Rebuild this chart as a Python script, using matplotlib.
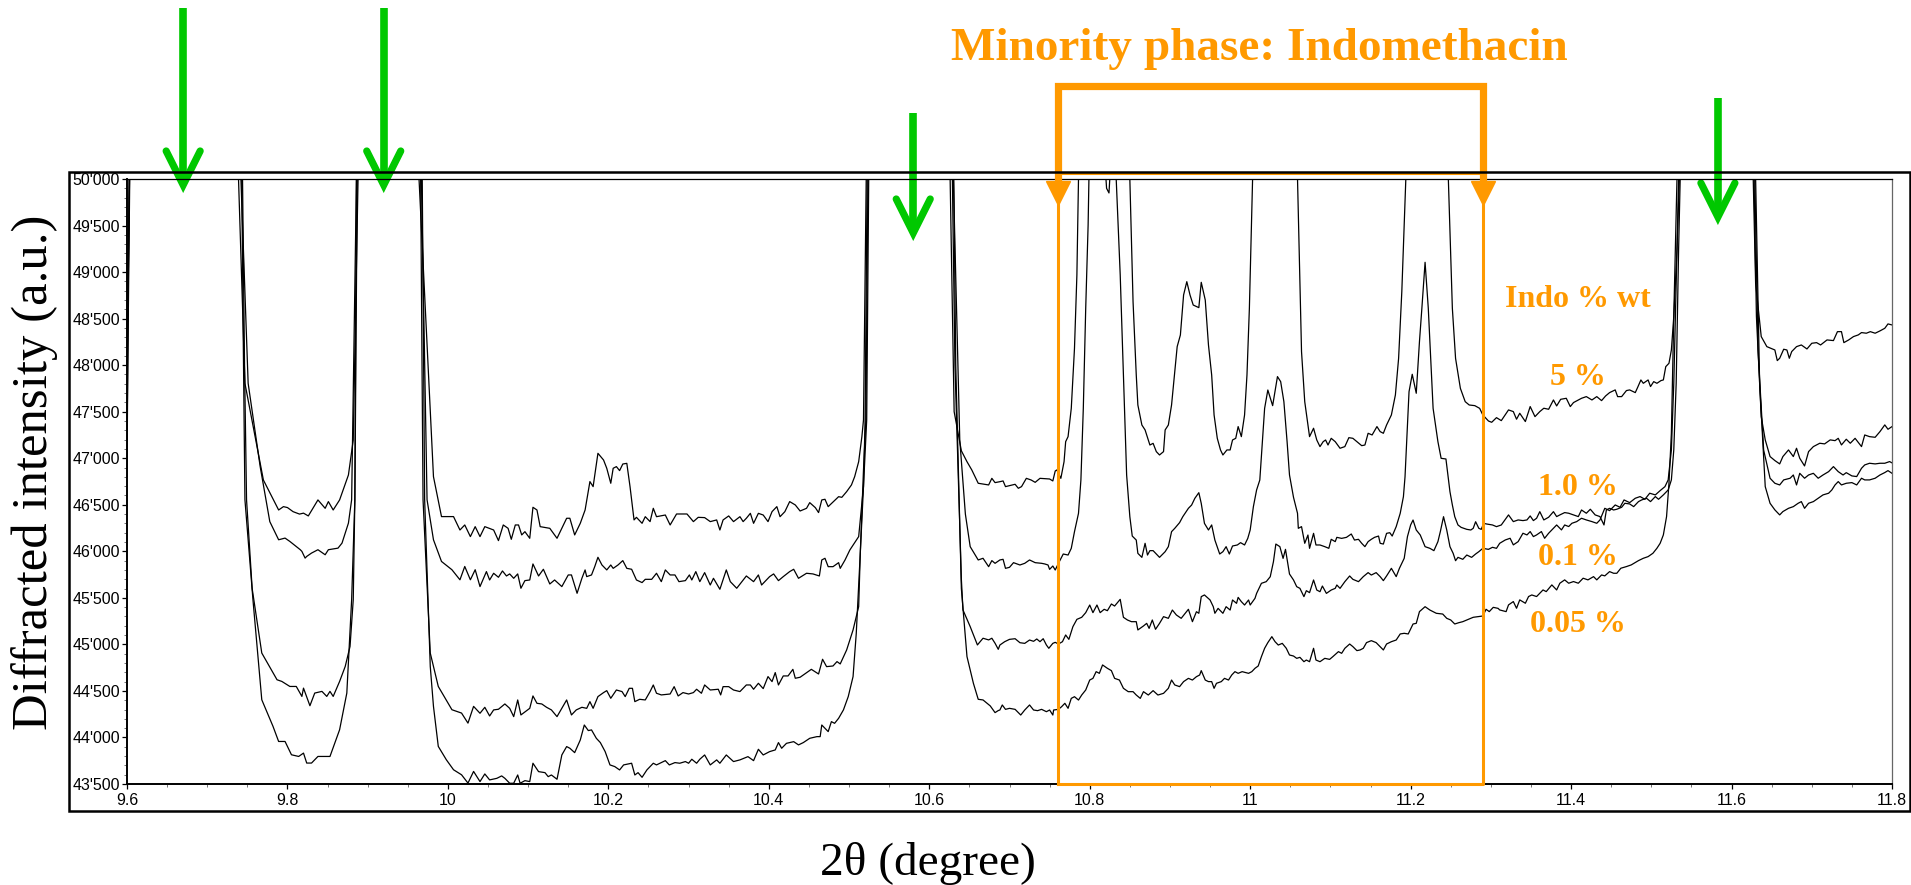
import numpy as np
import matplotlib
matplotlib.use("Agg")
import matplotlib.pyplot as plt
from matplotlib.patches import Rectangle
from matplotlib.ticker import MultipleLocator, FuncFormatter

# XRD patterns (2theta in degree, intensity a.u.)
# values above 50'000 only mark where a trace leaves the top of the frame
x_5 = [9.600, 9.603, 9.670, 9.739, 9.747, 9.770, 9.789, 9.795, 9.800, 9.807,
       9.815, 9.820, 9.826, 9.838, 9.847, 9.851, 9.857, 9.865, 9.876, 9.882,
       9.888, 9.925, 9.964, 9.982, 9.992, 10.007, 10.015, 10.021, 10.028, 10.034,
       10.040, 10.046, 10.057, 10.063, 10.069, 10.075, 10.079, 10.084, 10.088, 10.092,
       10.096, 10.102, 10.106, 10.111, 10.115, 10.127, 10.136, 10.148, 10.152, 10.158,
       10.165, 10.171, 10.177, 10.181, 10.187, 10.194, 10.198, 10.203, 10.206, 10.210,
       10.214, 10.218, 10.223, 10.227, 10.232, 10.235, 10.242, 10.246, 10.252, 10.256,
       10.260, 10.271, 10.277, 10.285, 10.298, 10.306, 10.312, 10.320, 10.327, 10.335,
       10.339, 10.343, 10.350, 10.356, 10.364, 10.368, 10.372, 10.377, 10.381, 10.387,
       10.393, 10.399, 10.404, 10.410, 10.414, 10.420, 10.426, 10.433, 10.439, 10.447,
       10.451, 10.458, 10.462, 10.466, 10.470, 10.474, 10.487, 10.491, 10.497, 10.503,
       10.507, 10.512, 10.516, 10.518, 10.522, 10.575, 10.626, 10.631, 10.640, 10.647,
       10.653, 10.661, 10.674, 10.678, 10.682, 10.688, 10.692, 10.695, 10.707, 10.711,
       10.715, 10.721, 10.727, 10.732, 10.738, 10.750, 10.754, 10.757, 10.759, 10.764,
       10.768, 10.770, 10.773, 10.777, 10.781, 10.784, 10.786, 10.800, 10.818, 10.821,
       10.824, 10.827, 10.838, 10.850, 10.854, 10.858, 10.860, 10.865, 10.869, 10.875,
       10.879, 10.883, 10.887, 10.892, 10.894, 10.898, 10.902, 10.906, 10.909, 10.913,
       10.917, 10.921, 10.925, 10.929, 10.936, 10.939, 10.944, 10.948, 10.952, 10.955,
       10.959, 10.963, 10.966, 10.971, 10.975, 10.978, 10.982, 10.985, 10.989, 10.993,
       10.996, 10.999, 11.003, 11.030, 11.059, 11.064, 11.068, 11.074, 11.079, 11.083,
       11.087, 11.091, 11.094, 11.097, 11.101, 11.106, 11.112, 11.118, 11.123, 11.128,
       11.133, 11.139, 11.143, 11.147, 11.152, 11.158, 11.162, 11.166, 11.170, 11.176,
       11.181, 11.185, 11.189, 11.194, 11.220, 11.247, 11.252, 11.256, 11.262, 11.268,
       11.273, 11.280, 11.286, 11.290, 11.297, 11.301, 11.307, 11.313, 11.322, 11.328,
       11.332, 11.336, 11.343, 11.349, 11.355, 11.361, 11.366, 11.372, 11.378, 11.382,
       11.387, 11.394, 11.399, 11.403, 11.413, 11.419, 11.426, 11.432, 11.438, 11.443,
       11.448, 11.455, 11.458, 11.463, 11.469, 11.473, 11.480, 11.483, 11.487, 11.490,
       11.496, 11.499, 11.503, 11.507, 11.512, 11.515, 11.518, 11.522, 11.525, 11.528,
       11.532, 11.535, 11.580, 11.627, 11.630, 11.637, 11.644, 11.649, 11.654, 11.657,
       11.660, 11.665, 11.669, 11.672, 11.675, 11.681, 11.687, 11.694, 11.700, 11.706,
       11.711, 11.719, 11.727, 11.732, 11.737, 11.740, 11.746, 11.752, 11.758, 11.762,
       11.768, 11.773, 11.779, 11.785, 11.791, 11.795, 11.800]
y_5 = [46800, 50500, 90000, 50000, 47805, 46766, 46444, 46480, 46470, 46426,
       46400, 46410, 46380, 46552, 46462, 46534, 46444, 46552, 46820, 47196,
       50000, 90000, 50000, 46802, 46373, 46373, 46229, 46283, 46158, 46265,
       46158, 46265, 46229, 46115, 46283, 46247, 46129, 46283, 46283, 46176,
       46211, 46140, 46473, 46444, 46265, 46247, 46140, 46355, 46355, 46176,
       46301, 46444, 46749, 46695, 47053, 46981, 46892, 46731, 46892, 46910,
       46867, 46938, 46945, 46695, 46337, 46365, 46301, 46372, 46319, 46462,
       46372, 46390, 46283, 46401, 46401, 46319, 46365, 46362, 46319, 46337,
       46229, 46337, 46380, 46319, 46372, 46319, 46355, 46408, 46301, 46408,
       46390, 46319, 46426, 46480, 46372, 46426, 46534, 46498, 46433, 46462,
       46523, 46469, 46416, 46552, 46559, 46480, 46587, 46580, 46641, 46713,
       46802, 46963, 47232, 47411, 50500, 90000, 50000, 47500, 47080, 46963,
       46874, 46731, 46713, 46784, 46738, 46748, 46756, 46695, 46720, 46677,
       46695, 46784, 46766, 46741, 46784, 46777, 46756, 46863, 46874, 46784,
       46963, 47178, 47232, 47536, 48181, 48969, 50000, 56000, 50300, 49900,
       49850, 50300, 56000, 50000, 48682, 47894, 47572, 47357, 47304, 47142,
       47160, 47071, 47035, 47071, 47304, 47357, 47572, 47930, 48199, 48324,
       48754, 48897, 48754, 48646, 48618, 48890, 48700, 48217, 47894, 47465,
       47214, 47089, 47035, 47089, 47089, 47196, 47214, 47340, 47232, 47465,
       47894, 48611, 50000, 70000, 50000, 48145, 47608, 47232, 47322, 47196,
       47125, 47178, 47196, 47142, 47214, 47178, 47107, 47125, 47221, 47214,
       47178, 47135, 47142, 47268, 47250, 47340, 47286, 47268, 47357, 47465,
       47680, 48073, 48790, 50000, 70000, 50000, 48611, 48073, 47751, 47608,
       47572, 47565, 47536, 47465, 47400, 47386, 47436, 47404, 47519, 47501,
       47419, 47483, 47394, 47555, 47447, 47501, 47537, 47526, 47626, 47562,
       47633, 47644, 47555, 47598, 47644, 47662, 47626, 47662, 47619, 47669,
       47705, 47734, 47662, 47662, 47727, 47734, 47705, 47762, 47841, 47805,
       47841, 47770, 47823, 47805, 47834, 47841, 47984, 48020, 48163, 48522,
       49238, 50008, 90000, 50008, 48880, 48307, 48199, 48181, 48163, 48049,
       48074, 48171, 48163, 48074, 48146, 48199, 48217, 48174, 48235, 48242,
       48217, 48271, 48264, 48360, 48360, 48242, 48271, 48307, 48325, 48350,
       48343, 48360, 48343, 48368, 48396, 48443, 48432]

x_1 = [9.600, 9.604, 9.670, 9.742, 9.751, 9.766, 9.778, 9.789, 9.797, 9.803,
       9.816, 9.818, 9.822, 9.824, 9.830, 9.838, 9.847, 9.851, 9.863, 9.868,
       9.876, 9.880, 9.886, 9.925, 9.967, 9.974, 9.982, 9.992, 10.005, 10.015,
       10.021, 10.028, 10.034, 10.040, 10.048, 10.052, 10.057, 10.063, 10.068, 10.073,
       10.077, 10.082, 10.087, 10.091, 10.096, 10.102, 10.106, 10.113, 10.119, 10.127,
       10.133, 10.142, 10.150, 10.154, 10.161, 10.167, 10.171, 10.173, 10.179, 10.183,
       10.187, 10.192, 10.198, 10.203, 10.206, 10.212, 10.218, 10.223, 10.229, 10.235,
       10.242, 10.246, 10.254, 10.260, 10.266, 10.271, 10.277, 10.283, 10.288, 10.296,
       10.301, 10.304, 10.309, 10.314, 10.320, 10.327, 10.331, 10.339, 10.347, 10.352,
       10.360, 10.368, 10.372, 10.381, 10.387, 10.391, 10.397, 10.401, 10.406, 10.412,
       10.418, 10.426, 10.431, 10.437, 10.447, 10.455, 10.463, 10.466, 10.470, 10.474,
       10.480, 10.487, 10.489, 10.495, 10.501, 10.512, 10.518, 10.522, 10.525, 10.575,
       10.628, 10.630, 10.638, 10.645, 10.651, 10.661, 10.667, 10.674, 10.678, 10.682,
       10.688, 10.692, 10.695, 10.700, 10.705, 10.713, 10.719, 10.725, 10.732, 10.740,
       10.744, 10.748, 10.750, 10.754, 10.757, 10.761, 10.767, 10.773, 10.777, 10.781,
       10.786, 10.789, 10.792, 10.795, 10.798, 10.799, 10.815, 10.833, 10.838, 10.842,
       10.846, 10.850, 10.853, 10.858, 10.860, 10.865, 10.869, 10.872, 10.875, 10.879,
       10.883, 10.887, 10.894, 10.898, 10.902, 10.906, 10.912, 10.916, 10.923, 10.927,
       10.931, 10.936, 10.939, 10.943, 10.948, 10.952, 10.956, 10.962, 10.966, 10.970,
       10.974, 10.978, 10.984, 10.988, 10.993, 10.997, 11.000, 11.004, 11.008, 11.012,
       11.018, 11.022, 11.028, 11.034, 11.038, 11.042, 11.046, 11.049, 11.054, 11.059,
       11.060, 11.064, 11.068, 11.072, 11.074, 11.079, 11.082, 11.087, 11.093, 11.098,
       11.101, 11.106, 11.108, 11.114, 11.120, 11.126, 11.130, 11.135, 11.139, 11.143,
       11.147, 11.151, 11.155, 11.160, 11.162, 11.166, 11.170, 11.174, 11.177, 11.182,
       11.187, 11.191, 11.193, 11.198, 11.202, 11.207, 11.211, 11.214, 11.218, 11.222,
       11.228, 11.234, 11.238, 11.244, 11.249, 11.252, 11.255, 11.259, 11.263, 11.270,
       11.275, 11.278, 11.281, 11.285, 11.288, 11.291, 11.295, 11.302, 11.307, 11.313,
       11.322, 11.328, 11.334, 11.340, 11.345, 11.349, 11.353, 11.357, 11.361, 11.366,
       11.372, 11.378, 11.382, 11.386, 11.392, 11.397, 11.403, 11.409, 11.413, 11.419,
       11.424, 11.430, 11.436, 11.441, 11.444, 11.448, 11.453, 11.457, 11.463, 11.467,
       11.473, 11.478, 11.484, 11.488, 11.494, 11.499, 11.505, 11.509, 11.515, 11.521,
       11.525, 11.528, 11.531, 11.534, 11.536, 11.580, 11.628, 11.631, 11.637, 11.642,
       11.648, 11.654, 11.660, 11.664, 11.671, 11.677, 11.681, 11.685, 11.691, 11.696,
       11.702, 11.710, 11.716, 11.723, 11.729, 11.733, 11.737, 11.743, 11.748, 11.754,
       11.762, 11.766, 11.772, 11.779, 11.785, 11.791, 11.795, 11.800]
y_1 = [47200, 50500, 90000, 50000, 47805, 46910, 46319, 46124, 46142, 46106,
       46017, 45999, 45927, 45945, 45981, 46017, 45963, 46017, 46034, 46088,
       46303, 46554, 50000, 90000, 50000, 46554, 46124, 45891, 45802, 45694,
       45837, 45694, 45802, 45621, 45782, 45692, 45764, 45721, 45789, 45735,
       45757, 45710, 45757, 45603, 45685, 45692, 45864, 45735, 45807, 45649,
       45692, 45621, 45746, 45746, 45549, 45710, 45800, 45728, 45746, 45835,
       45936, 45853, 45800, 45853, 45817, 45853, 45900, 45817, 45807, 45692,
       45664, 45699, 45699, 45764, 45674, 45800, 45746, 45746, 45674, 45685,
       45746, 45692, 45782, 45674, 45771, 45638, 45710, 45592, 45800, 45674,
       45603, 45692, 45735, 45674, 45746, 45638, 45692, 45728, 45757, 45685,
       45728, 45782, 45807, 45710, 45764, 45757, 45735, 45907, 45925, 45835,
       45835, 45878, 45817, 45907, 46014, 46158, 46695, 47411, 50500, 90000,
       50500, 50000, 47200, 46400, 46050, 45907, 45925, 45835, 45900, 45871,
       45907, 45914, 45817, 45828, 45878, 45853, 45871, 45907, 45878, 45871,
       45864, 45853, 45806, 45842, 45799, 45871, 45971, 45960, 46032, 46211,
       46408, 46766, 47536, 48611, 49506, 50000, 60000, 50000, 48969, 47894,
       46820, 46372, 46164, 46121, 45978, 45935, 46086, 45960, 46007, 46007,
       45971, 45935, 45996, 46050, 46211, 46247, 46308, 46372, 46462, 46497,
       46569, 46630, 46515, 46300, 46229, 46283, 46121, 45971, 45996, 46050,
       45971, 46057, 46068, 46093, 46068, 46139, 46229, 46480, 46659, 46766,
       47536, 47733, 47565, 47877, 47823, 47608, 47178, 46820, 46580, 46408,
       46247, 46265, 46086, 46175, 46032, 46193, 46068, 46068, 46050, 46032,
       46129, 46104, 46150, 46139, 46150, 46186, 46121, 46129, 46086, 46050,
       46104, 46129, 46150, 46164, 46086, 46078, 46193, 46200, 46164, 46265,
       46408, 46587, 46800, 47715, 47902, 47698, 48253, 48611, 49105, 48611,
       47536, 47178, 46999, 46992, 46641, 46498, 46372, 46283, 46257, 46236,
       46229, 46247, 46318, 46247, 46236, 46300, 46293, 46283, 46265, 46283,
       46391, 46319, 46337, 46330, 46337, 46380, 46330, 46355, 46426, 46337,
       46366, 46426, 46373, 46391, 46416, 46409, 46391, 46373, 46444, 46409,
       46452, 46391, 46373, 46283, 46444, 46462, 46444, 46452, 46473, 46516,
       46509, 46480, 46534, 46552, 46570, 46534, 46588, 46559, 46606, 46659,
       46767, 47089, 47805, 49238, 50008, 90000, 50008, 48522, 47447, 47197,
       47018, 46975, 46939, 47018, 47089, 47018, 47107, 47000, 46917, 47071,
       47125, 47161, 47154, 47197, 47189, 47214, 47143, 47204, 47161, 47214,
       47125, 47250, 47232, 47225, 47286, 47358, 47311, 47340]

x_01 = [9.600, 9.604, 9.670, 9.744, 9.7465, 9.749, 9.756, 9.768, 9.787, 9.793, 9.803, 9.811,
        9.818, 9.820, 9.828, 9.834, 9.843, 9.849, 9.853, 9.857, 9.865, 9.872,
        9.878, 9.882, 9.884, 9.887, 9.925, 9.966, 9.969, 9.978, 9.988, 10.005,
        10.017, 10.025, 10.032, 10.040, 10.046, 10.052, 10.057, 10.063, 10.071, 10.077,
        10.082, 10.087, 10.091, 10.102, 10.106, 10.111, 10.117, 10.123, 10.129, 10.136,
        10.148, 10.154, 10.160, 10.167, 10.173, 10.177, 10.181, 10.187, 10.194, 10.198,
        10.203, 10.210, 10.217, 10.221, 10.226, 10.230, 10.233, 10.239, 10.246, 10.252,
        10.256, 10.260, 10.266, 10.277, 10.282, 10.287, 10.293, 10.300, 10.306, 10.310,
        10.316, 10.320, 10.327, 10.337, 10.340, 10.343, 10.350, 10.356, 10.364, 10.372,
        10.377, 10.381, 10.387, 10.393, 10.399, 10.404, 10.408, 10.412, 10.418, 10.424,
        10.430, 10.433, 10.439, 10.449, 10.453, 10.462, 10.467, 10.472, 10.480, 10.485,
        10.489, 10.497, 10.505, 10.512, 10.514, 10.518, 10.520, 10.523, 10.575, 10.628,
        10.632, 10.640, 10.642, 10.651, 10.660, 10.667, 10.674, 10.678, 10.682, 10.686,
        10.688, 10.694, 10.700, 10.707, 10.713, 10.719, 10.725, 10.730, 10.734, 10.738,
        10.742, 10.746, 10.749, 10.754, 10.757, 10.761, 10.766, 10.770, 10.774, 10.779,
        10.784, 10.790, 10.795, 10.800, 10.804, 10.809, 10.813, 10.818, 10.822, 10.827,
        10.831, 10.838, 10.842, 10.847, 10.852, 10.858, 10.860, 10.867, 10.871, 10.874,
        10.878, 10.882, 10.887, 10.892, 10.898, 10.903, 10.908, 10.914, 10.919, 10.923,
        10.928, 10.933, 10.936, 10.939, 10.943, 10.950, 10.954, 10.956, 10.960, 10.966,
        10.970, 10.975, 10.978, 10.983, 10.985, 10.989, 10.993, 10.998, 11.000, 11.006,
        11.008, 11.014, 11.020, 11.025, 11.029, 11.032, 11.037, 11.041, 11.044, 11.049,
        11.054, 11.058, 11.062, 11.067, 11.070, 11.074, 11.079, 11.083, 11.087, 11.090,
        11.095, 11.101, 11.106, 11.108, 11.112, 11.118, 11.124, 11.128, 11.135, 11.141,
        11.147, 11.151, 11.157, 11.162, 11.166, 11.170, 11.176, 11.182, 11.186, 11.192,
        11.196, 11.200, 11.203, 11.207, 11.212, 11.218, 11.224, 11.229, 11.234, 11.237,
        11.241, 11.245, 11.249, 11.253, 11.256, 11.259, 11.265, 11.270, 11.276, 11.281,
        11.285, 11.290, 11.297, 11.302, 11.307, 11.311, 11.318, 11.324, 11.328, 11.334,
        11.340, 11.345, 11.349, 11.353, 11.357, 11.363, 11.367, 11.372, 11.378, 11.382,
        11.388, 11.392, 11.397, 11.401, 11.407, 11.413, 11.419, 11.426, 11.432, 11.436,
        11.442, 11.448, 11.455, 11.461, 11.466, 11.473, 11.480, 11.486, 11.492, 11.498,
        11.505, 11.511, 11.517, 11.521, 11.525, 11.528, 11.532, 11.534, 11.580, 11.629,
        11.633, 11.640, 11.648, 11.654, 11.660, 11.665, 11.673, 11.677, 11.681, 11.685,
        11.691, 11.696, 11.702, 11.708, 11.714, 11.721, 11.727, 11.733, 11.739, 11.743,
        11.750, 11.756, 11.762, 11.766, 11.772, 11.779, 11.785, 11.791, 11.797, 11.800]
y_01 = [47700, 50800, 90000, 50000, 48000, 46554, 45600, 44907, 44620, 44602, 44548, 44548,
        44441, 44530, 44341, 44477, 44495, 44441, 44495, 44441, 44602, 44763,
        44978, 45479, 46554, 50000, 90000, 50000, 46554, 44907, 44548, 44298,
        44262, 44154, 44334, 44260, 44324, 44231, 44296, 44303, 44360, 44313,
        44224, 44403, 44242, 44313, 44446, 44367, 44360, 44324, 44296, 44224,
        44403, 44242, 44296, 44324, 44313, 44385, 44313, 44439, 44482, 44503,
        44421, 44510, 44493, 44439, 44528, 44528, 44385, 44410, 44403, 44493,
        44564, 44475, 44457, 44467, 44546, 44446, 44482, 44467, 44482, 44518,
        44475, 44564, 44510, 44518, 44457, 44546, 44546, 44510, 44493, 44564,
        44564, 44518, 44582, 44525, 44654, 44600, 44697, 44564, 44661, 44661,
        44732, 44636, 44647, 44707, 44732, 44682, 44840, 44761, 44768, 44815,
        44790, 44940, 45155, 45406, 45979, 46695, 47411, 50500, 90000, 50500,
        48000, 45700, 45370, 45191, 44994, 45066, 45048, 45066, 45012, 44947,
        44993, 45029, 45054, 45061, 45018, 45011, 45047, 45033, 45058, 45029,
        45061, 44993, 44958, 45011, 45022, 45004, 45029, 45101, 45054, 45190,
        45269, 45291, 45341, 45423, 45341, 45423, 45341, 45377, 45362, 45434,
        45412, 45484, 45291, 45262, 45244, 45244, 45155, 45198, 45226, 45172,
        45262, 45162, 45226, 45298, 45280, 45369, 45316, 45280, 45334, 45377,
        45244, 45351, 45334, 45513, 45531, 45477, 45405, 45334, 45387, 45334,
        45405, 45369, 45477, 45441, 45505, 45459, 45423, 45477, 45423, 45495,
        45548, 45656, 45674, 45727, 45889, 46078, 46050, 45924, 46021, 45756,
        45692, 45620, 45602, 45513, 45577, 45556, 45692, 45584, 45566, 45627,
        45548, 45584, 45602, 45638, 45602, 45674, 45735, 45699, 45674, 45728,
        45771, 45745, 45771, 45728, 45685, 45735, 45817, 45728, 45817, 45925,
        46157, 46283, 46336, 46229, 46175, 46050, 46032, 46007, 46104, 46211,
        46372, 46229, 46050, 45978, 45899, 45935, 45914, 45960, 45935, 45971,
        45996, 46032, 46021, 46043, 46032, 46086, 46122, 46140, 46069, 46104,
        46194, 46176, 46212, 46158, 46176, 46212, 46140, 46194, 46248, 46283,
        46230, 46283, 46266, 46301, 46319, 46355, 46337, 46319, 46301, 46337,
        46462, 46437, 46498, 46473, 46552, 46523, 46570, 46588, 46559, 46624,
        46606, 46652, 46695, 46767, 47089, 47805, 49238, 50008, 90000, 50008,
        48163, 47089, 46785, 46731, 46713, 46767, 46785, 46820, 46713, 46838,
        46785, 46820, 46838, 46785, 46820, 46856, 46910, 46856, 46820, 46845,
        46810, 46803, 46892, 46928, 46946, 46939, 46946, 46946, 46964, 46950]

x_005 = [9.600, 9.605, 9.670, 9.743, 9.745, 9.747, 9.757, 9.768, 9.782, 9.789, 9.797,
         9.805, 9.814, 9.820, 9.824, 9.830, 9.838, 9.853, 9.865, 9.874, 9.880,
         9.884, 9.886, 9.925, 9.968, 9.971, 9.978, 9.982, 9.988, 9.998, 10.007,
         10.017, 10.025, 10.032, 10.040, 10.046, 10.052, 10.061, 10.067, 10.071, 10.077,
         10.082, 10.087, 10.090, 10.096, 10.102, 10.106, 10.113, 10.121, 10.125, 10.129,
         10.136, 10.142, 10.148, 10.152, 10.158, 10.165, 10.170, 10.175, 10.179, 10.185,
         10.190, 10.196, 10.202, 10.208, 10.214, 10.219, 10.229, 10.233, 10.237, 10.242,
         10.248, 10.256, 10.260, 10.271, 10.276, 10.283, 10.289, 10.296, 10.300, 10.304,
         10.310, 10.314, 10.320, 10.327, 10.335, 10.339, 10.347, 10.356, 10.364, 10.374,
         10.381, 10.387, 10.393, 10.401, 10.408, 10.412, 10.416, 10.422, 10.431, 10.437,
         10.443, 10.451, 10.460, 10.464, 10.466, 10.470, 10.474, 10.478, 10.482, 10.487,
         10.493, 10.499, 10.505, 10.509, 10.514, 10.518, 10.521, 10.524, 10.575, 10.630,
         10.633, 10.640, 10.647, 10.655, 10.661, 10.667, 10.676, 10.682, 10.686, 10.688,
         10.691, 10.695, 10.700, 10.707, 10.714, 10.719, 10.725, 10.730, 10.735, 10.740,
         10.746, 10.750, 10.754, 10.755, 10.761, 10.765, 10.769, 10.773, 10.777, 10.781,
         10.786, 10.790, 10.795, 10.800, 10.804, 10.808, 10.812, 10.816, 10.822, 10.827,
         10.831, 10.837, 10.842, 10.848, 10.854, 10.858, 10.863, 10.867, 10.873, 10.879,
         10.885, 10.892, 10.898, 10.902, 10.906, 10.912, 10.917, 10.923, 10.928, 10.933,
         10.937, 10.939, 10.944, 10.948, 10.952, 10.955, 10.958, 10.964, 10.968, 10.973,
         10.977, 10.981, 10.985, 10.990, 10.998, 11.002, 11.006, 11.010, 11.014, 11.018,
         11.022, 11.027, 11.031, 11.035, 11.040, 11.045, 11.049, 11.054, 11.058, 11.062,
         11.067, 11.070, 11.074, 11.079, 11.082, 11.087, 11.093, 11.099, 11.103, 11.110,
         11.114, 11.118, 11.124, 11.128, 11.133, 11.137, 11.141, 11.145, 11.151, 11.157,
         11.162, 11.166, 11.170, 11.176, 11.182, 11.187, 11.192, 11.197, 11.203, 11.207,
         11.211, 11.218, 11.224, 11.232, 11.240, 11.245, 11.250, 11.255, 11.260, 11.265,
         11.272, 11.278, 11.284, 11.290, 11.294, 11.298, 11.303, 11.309, 11.311, 11.319,
         11.322, 11.328, 11.332, 11.336, 11.343, 11.347, 11.351, 11.357, 11.361, 11.365,
         11.369, 11.376, 11.382, 11.386, 11.392, 11.397, 11.403, 11.409, 11.415, 11.421,
         11.428, 11.432, 11.438, 11.442, 11.448, 11.453, 11.457, 11.462, 11.469, 11.475,
         11.484, 11.490, 11.496, 11.502, 11.507, 11.511, 11.515, 11.519, 11.522, 11.525,
         11.528, 11.532, 11.580, 11.630, 11.635, 11.642, 11.648, 11.654, 11.660, 11.664,
         11.671, 11.677, 11.683, 11.687, 11.691, 11.696, 11.702, 11.708, 11.714, 11.721,
         11.725, 11.729, 11.733, 11.737, 11.743, 11.750, 11.756, 11.762, 11.766, 11.772,
         11.779, 11.785, 11.791, 11.795, 11.800]
y_005 = [48200, 51000, 90000, 50000, 48200, 46554, 45479, 44405, 44119, 43957, 43957,
         43814, 43796, 43832, 43725, 43725, 43796, 43796, 44083, 44477, 45479,
         46554, 50000, 90000, 50000, 46554, 44763, 44334, 43904, 43761, 43653,
         43599, 43510, 43635, 43526, 43608, 43544, 43561, 43587, 43561, 43508,
         43508, 43597, 43508, 43536, 43526, 43723, 43633, 43622, 43579, 43597,
         43551, 43812, 43902, 43884, 43837, 43973, 44134, 44074, 44081, 43991,
         43945, 43848, 43705, 43687, 43651, 43705, 43723, 43597, 43622, 43572,
         43651, 43723, 43705, 43751, 43705, 43730, 43723, 43741, 43723, 43766,
         43723, 43766, 43812, 43705, 43759, 43723, 43812, 43741, 43759, 43794,
         43751, 43873, 43812, 43848, 43866, 43945, 43884, 43937, 43955, 43920,
         43945, 43991, 44009, 44009, 44134, 44099, 44063, 44170, 44152, 44206,
         44296, 44439, 44654, 45119, 45979, 46874, 47411, 50500, 90000, 50500,
         48000, 45600, 44869, 44582, 44410, 44403, 44339, 44267, 44289, 44295,
         44349, 44302, 44313, 44302, 44241, 44295, 44349, 44295, 44288, 44302,
         44277, 44295, 44241, 44295, 44302, 44331, 44367, 44313, 44420, 44438,
         44402, 44456, 44510, 44617, 44635, 44707, 44689, 44779, 44743, 44718,
         44635, 44617, 44528, 44492, 44492, 44456, 44420, 44492, 44456, 44503,
         44456, 44474, 44528, 44617, 44564, 44546, 44600, 44635, 44617, 44653,
         44671, 44718, 44617, 44600, 44600, 44528, 44582, 44600, 44635, 44617,
         44671, 44707, 44689, 44707, 44689, 44707, 44743, 44768, 44868, 44958,
         45019, 45083, 45029, 44993, 45011, 44958, 44886, 44875, 44850, 44861,
         44814, 44832, 44814, 44958, 44832, 44814, 44850, 44839, 44868, 44922,
         44904, 44958, 45004, 44976, 44933, 44940, 44958, 45019, 45040, 45019,
         44976, 44940, 45004, 45029, 45047, 45112, 45119, 45112, 45219, 45226,
         45352, 45405, 45369, 45334, 45326, 45280, 45262, 45219, 45233, 45244,
         45269, 45291, 45298, 45305, 45377, 45352, 45398, 45387, 45370, 45352,
         45424, 45460, 45388, 45478, 45442, 45514, 45531, 45514, 45549, 45585,
         45567, 45639, 45585, 45657, 45693, 45657, 45675, 45657, 45711, 45693,
         45728, 45693, 45746, 45736, 45782, 45764, 45764, 45818, 45836, 45854,
         45900, 45925, 45943, 45979, 46033, 46086, 46176, 46373, 46731, 47268,
         48522, 50008, 90000, 50008, 47805, 46695, 46516, 46445, 46391, 46427,
         46462, 46480, 46516, 46534, 46462, 46516, 46534, 46570, 46606, 46624,
         46659, 46713, 46749, 46713, 46731, 46738, 46713, 46785, 46767, 46767,
         46785, 46820, 46846, 46867, 46838]

samples = ["5 %", "1.0 %", "0.1 %", "0.05 %"]
sample_label_y = [47787, 46605, 45853, 45133]
legend_title = "Indo % wt"
legend_title_y = 48625
label_x = 11.409

green_arrow_x = [9.67, 9.92, 10.58, 11.583]
window_x = [10.76, 11.29]
title = "Minority phase: Indomethacin"
title_x = 11.011

ORANGE = "#FF9900"
GREEN = "#00C800"
SERIF = ["Liberation Serif", "DejaVu Serif"]
SANS = ["Liberation Sans", "DejaVu Sans"]

series = [(x_5, y_5), (x_1, y_1), (x_01, y_01), (x_005, y_005)]
for xs, ys in series:
    assert len(xs) == len(ys)

W, H, DPI = 1911, 885, 100
fig = plt.figure(figsize=(W / DPI, H / DPI), dpi=DPI)
ax_box = [127 / W, 101 / H, 1765 / W, 605 / H]
ax = fig.add_axes(ax_box)

for xs, ys in series:
    ax.plot(xs, ys, color="black", lw=0.9)

ax.set_xlim(9.6, 11.8)
ax.set_ylim(43500, 50000)
ax.xaxis.set_major_locator(MultipleLocator(0.2))
ax.xaxis.set_minor_locator(MultipleLocator(0.05))
ax.yaxis.set_major_locator(MultipleLocator(500))
ax.yaxis.set_minor_locator(MultipleLocator(100))
ax.xaxis.set_major_formatter(FuncFormatter(lambda v, _: f"{v:g}"))
ax.yaxis.set_major_formatter(FuncFormatter(lambda v, _: f"{int(round(v)):,}".replace(",", "'")))
ax.tick_params(which="major", direction="out", length=3.5, width=0.9, labelsize=11.5, pad=1.5)
ax.tick_params(which="minor", direction="out", length=2, width=0.7, color="0.45")
ax.tick_params(axis="x", which="major", pad=3)
for lab in ax.get_xticklabels() + ax.get_yticklabels():
    lab.set_family(SANS)
ax.spines["left"].set_linewidth(1.4)
ax.spines["bottom"].set_linewidth(1.4)
ax.spines["top"].set_linewidth(0.9)
ax.spines["right"].set_linewidth(0.9)
ax.spines["right"].set_color("0.4")

# outer frame round the whole plot
fig.add_artist(Rectangle((69 / W, 74 / H), 1841 / W, 639 / H, transform=fig.transFigure,
                         fill=False, lw=1.8, ec="black"))

tr = ax.get_xaxis_transform()
ax_w_px = ax_box[2] * W
ax_h_px = ax_box[3] * H
px_x = (11.8 - 9.6) / ax_w_px      # one pixel in data x
px_y = 1.0 / ax_h_px               # one pixel in axes fraction

# green arrows marking the main-phase peaks
arrow_top = [784 - 8, 784 - 8, 784 - 113, 784 - 98]
arrow_tip = [784 - 185, 784 - 185, 784 - 233, 784 - 217]
for x, top, tip in zip(green_arrow_x, arrow_top, arrow_tip):
    t, p = top * px_y, tip * px_y
    ax.plot([x, x], [t, p + 3 * px_y], color=GREEN, lw=5.5, solid_capstyle="butt",
            transform=tr, clip_on=False)
    ax.plot([x - 17 * px_x, x, x + 17 * px_x], [p + 34 * px_y, p, p + 34 * px_y],
            color=GREEN, lw=5.2, solid_capstyle="round", solid_joinstyle="miter",
            transform=tr, clip_on=False)

# orange window for the indomethacin peaks
x0, x1 = window_x
ax.plot([x0, x0, x1, x1, x0], [0, (784 - 173) * px_y, (784 - 173) * px_y, 0, 0],
        color=ORANGE, lw=2.2, transform=tr, clip_on=False, zorder=5)
yb = (784 - 86) * px_y
ax.plot([x0, x0, x1, x1], [(784 - 186) * px_y, yb, yb, (784 - 186) * px_y],
        color=ORANGE, lw=5.2, solid_joinstyle="miter", transform=tr, clip_on=False, zorder=5)
ax.plot([x0, x1], [(784 - 193) * px_y] * 2, ls="none", marker="v", ms=17, color=ORANGE,
        transform=tr, clip_on=False, zorder=6)

ax.text(title_x, (784 - 60) * px_y, title, transform=tr, ha="center", va="baseline",
        fontsize=34, fontweight="bold", family=SERIF, color=ORANGE)
ax.text(label_x, legend_title_y, legend_title, ha="center", va="baseline",
        fontsize=23, fontweight="bold", family=SERIF, color=ORANGE)
for lab, yv in zip(samples, sample_label_y):
    ax.text(label_x, yv, lab, ha="center", va="baseline",
            fontsize=23, fontweight="bold", family=SERIF, color=ORANGE)

fig.text(928 / W, 1 - 875 / H, "2\u03b8 (degree)", ha="center", va="baseline",
         fontsize=34, family=SERIF)
fig.text(35 / W, 1 - 472 / H, "Diffracted intensity (a.u.)", rotation=90,
         ha="center", va="center", fontsize=36.5, family=SERIF)

fig.savefig("out.png", dpi=DPI)
